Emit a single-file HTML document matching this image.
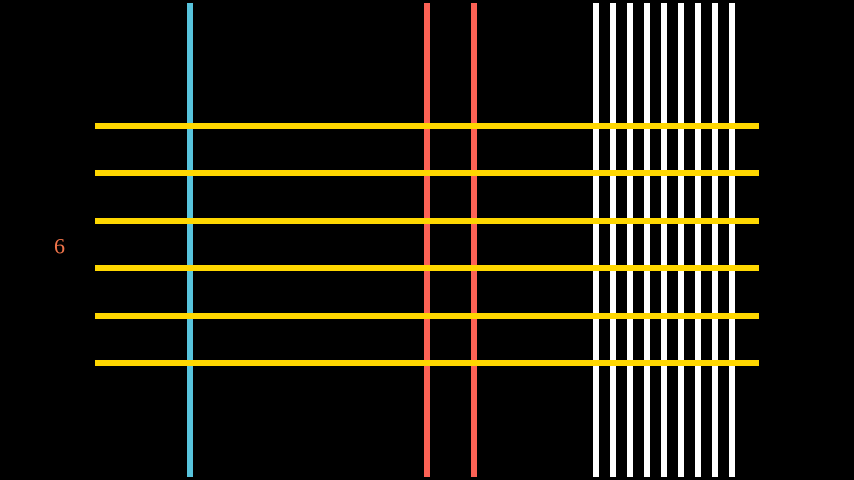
<!DOCTYPE html>
<html><head><style>html,body{margin:0;padding:0;background:#000;width:854px;height:480px;overflow:hidden}</style></head>
<body>
<svg width="854" height="480" xmlns="http://www.w3.org/2000/svg">
<rect width="854" height="480" fill="#000"/>
<g stroke-width="6">
<line x1="190" y1="3" x2="190" y2="477" stroke="#58C4DD"/>
<line x1="427" y1="3" x2="427" y2="477" stroke="#FC6255"/>
<line x1="474" y1="3" x2="474" y2="477" stroke="#FC6255"/>
<g stroke="#fff">
<line x1="596" y1="3" x2="596" y2="477"/>
<line x1="613" y1="3" x2="613" y2="477"/>
<line x1="630" y1="3" x2="630" y2="477"/>
<line x1="647" y1="3" x2="647" y2="477"/>
<line x1="664" y1="3" x2="664" y2="477"/>
<line x1="681" y1="3" x2="681" y2="477"/>
<line x1="698" y1="3" x2="698" y2="477"/>
<line x1="715" y1="3" x2="715" y2="477"/>
<line x1="732" y1="3" x2="732" y2="477"/>
</g>
<g stroke="#FFD700">
<line x1="95" y1="126" x2="759" y2="126"/>
<line x1="95" y1="173" x2="759" y2="173"/>
<line x1="95" y1="221" x2="759" y2="221"/>
<line x1="95" y1="268" x2="759" y2="268"/>
<line x1="95" y1="316" x2="759" y2="316"/>
<line x1="95" y1="363" x2="759" y2="363"/>
</g>
</g>
<text x="54" y="253.5" font-family="Liberation Serif, serif" font-size="22" fill="#F0744A">6</text>
</svg>
</body></html>
